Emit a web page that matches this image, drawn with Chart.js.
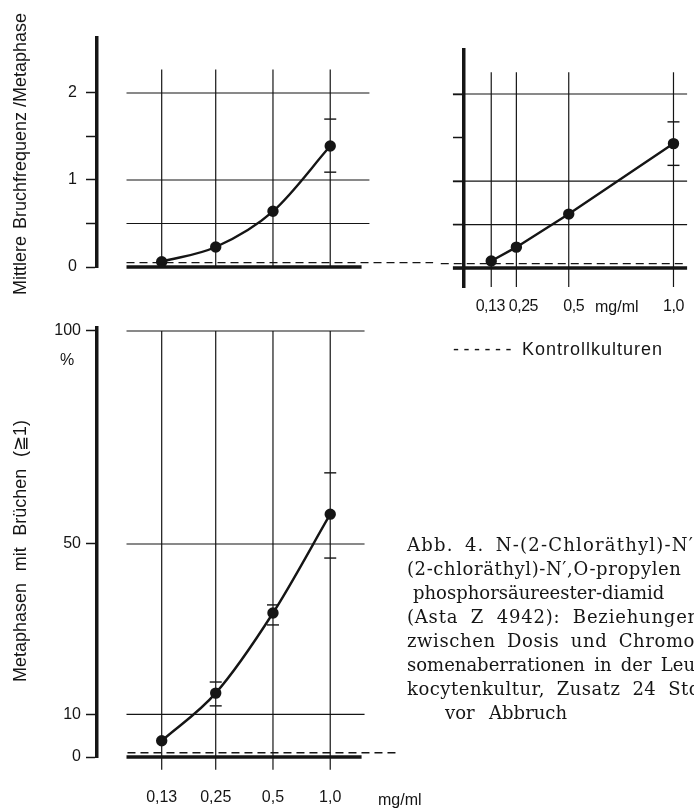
<!DOCTYPE html>
<html>
<head>
<meta charset="utf-8">
<script src="https://cdn.jsdelivr.net/npm/chart.js@4.4.1/dist/chart.umd.min.js"></script>
<style>
  html, body { margin: 0; padding: 0; background: #fff; overflow: hidden; }
  body { width: 694px; height: 810px; position: relative; font-family: 'Liberation Sans', Arial, sans-serif; color: #151515; }
  canvas { position: absolute; }
  .t { position: absolute; white-space: nowrap; font-size: 16px; line-height: 18px; }
  .rot { position: absolute; font-size: 18px; line-height: 18px; height: 18px; text-align: justify; text-align-last: justify; transform: rotate(-90deg); }
  .cap { position: absolute; font-family: 'DejaVu Serif', serif; font-size: 18px; line-height: 24px; height: 24px; text-align: justify; text-align-last: justify; }
</style>
</head>
<body>
<canvas id="oben" width="440" height="300" style="left:0;top:0"></canvas>
<canvas id="rechts" width="254" height="330" style="left:440px;top:0"></canvas>
<canvas id="unten" width="440" height="510" style="left:0;top:300px"></canvas>

<div class="rot" style="left:-129px;top:145px;width:298px;text-align:center;text-align-last:center;white-space:nowrap"><span style="margin-right:7px">Mittlere</span>Bruchfrequenz /Metaphase</div>
<div class="rot" style="left:-111px;top:542px;width:262px">Metaphasen mit Brüchen (≧1)</div>
<div class="t" style="left:60px;top:351px">%</div>
<div class="t" style="left:378px;top:791px">mg/ml</div>
<div class="t" style="left:595px;top:298px">mg/ml</div>
<div class="t" style="left:453px;top:338px;font-size:18px;line-height:22px"><span style="letter-spacing:4.5px">------</span><span style="letter-spacing:1px"> Kontrollkulturen</span></div>

<div class="cap" style="left:407px;top:533px;width:287px;letter-spacing:1.2px">Abb. 4. N-(2-Chloräthyl)-N′</div>
<div class="cap" style="left:407px;top:557px;width:284px;letter-spacing:0.6px">(2-chloräthyl)-N′,O-propylen</div>
<div class="cap" style="left:413px;top:581px;width:255px">phosphorsäureester-diamid</div>
<div class="cap" style="left:407px;top:605px;width:293px;letter-spacing:0.8px">(Asta Z 4942): Beziehungen</div>
<div class="cap" style="left:407px;top:629px;width:288px;letter-spacing:0.6px">zwischen Dosis und Chromo</div>
<div class="cap" style="left:407px;top:653px;width:288px">somenaberrationen in der Leu</div>
<div class="cap" style="left:407px;top:677px;width:300px;letter-spacing:0.5px">kocytenkultur, Zusatz 24 Std.</div>
<div class="cap" style="left:445px;top:701px;width:122px">vor Abbruch</div>

<script>
// Dosen (mg/ml)
const doses = [0.13, 0.25, 0.5, 1.0];
const doseLabels = ['0,13', '0,25', '0,5', '1,0'];

// Mittlere Bruchfrequenz / Metaphase (oben links: Kurve, oben rechts: lineare Achse)
const freqLeft = [0.06, 0.23, 0.64, 1.39];
const freqLeftHi = [null, null, null, 1.70];
const freqLeftLo = [null, null, null, 1.09];
const freqRight = [0.08, 0.24, 0.62, 1.43];
const freqRightHi = [null, null, null, 1.68];
const freqRightLo = [null, null, null, 1.18];
const freqControl = 0.05;
const freqTicks = [0, 0.5, 1, 1.5, 2];
const freqTickLabels = ['0', '', '1', '', '2'];
const freqRows = [0.5, 1, 2];

// Metaphasen mit Brüchen (%)
const pct = [3.8, 15.0, 33.8, 57.0];
const pctHi = [null, 17.6, 35.7, 66.7];
const pctLo = [null, 12.0, 31.0, 46.7];
const pctControl = 1;
const pctTicks = [0, 10, 50, 100];
const pctTickLabels = ['0', '10', '50', '100'];
const pctRows = [10, 50, 100];

const ink = '#151515';
const font = { family: "'Liberation Sans', Arial, sans-serif", size: 16 };

// Gitter, Nulllinie, Kontrolllinie und Fehlerstriche
const frame = {
  id: 'frame',
  beforeDatasetsDraw(chart, args, o) {
    const { ctx, scales: { x, y } } = chart;
    const seg = (x1, y1, x2, y2) => { ctx.beginPath(); ctx.moveTo(x1, y1); ctx.lineTo(x2, y2); ctx.stroke(); };
    ctx.save();
    ctx.strokeStyle = ink;
    ctx.lineWidth = 1.2;
    o.rows.forEach(v => seg(x.getPixelForValue(o.from), y.getPixelForValue(v), x.getPixelForValue(o.to), y.getPixelForValue(v)));
    doses.forEach(d => seg(x.getPixelForValue(d), y.getPixelForValue(o.top), x.getPixelForValue(d), y.getPixelForValue(o.bottom)));
    ctx.lineWidth = 3.5;
    seg(x.getPixelForValue(o.from), y.getPixelForValue(0), x.getPixelForValue(o.baseTo), y.getPixelForValue(0));
    // Kontrollkulturen
    ctx.lineWidth = 1.3;
    ctx.setLineDash([8, 5]);
    seg(x.getPixelForValue(o.ctrlFrom), y.getPixelForValue(o.control), x.getPixelForValue(o.ctrlTo), y.getPixelForValue(o.control));
    ctx.restore();
  },
  afterDatasetsDraw(chart, args, o) {
    const { ctx, scales: { x, y } } = chart;
    ctx.save();
    ctx.strokeStyle = ink;
    ctx.lineWidth = 1.4;
    doses.forEach((d, i) => {
      [o.hi[i], o.lo[i]].forEach(v => {
        if (v == null) return;
        const px = x.getPixelForValue(d), py = y.getPixelForValue(v);
        ctx.beginPath(); ctx.moveTo(px - 6, py); ctx.lineTo(px + 6, py); ctx.stroke();
      });
    });
    ctx.restore();
  }
};

// Dosisbeschriftung rechts oben (Etiketten leicht versetzt wie im Original)
const doseText = {
  id: 'doseText',
  afterDraw(chart, args, o) {
    const { ctx, chartArea, scales: { x } } = chart;
    ctx.save();
    ctx.fillStyle = ink;
    ctx.font = font.size + 'px ' + font.family;
    ctx.letterSpacing = '-0.5px';
    ctx.textAlign = 'center';
    ctx.textBaseline = 'middle';
    doses.forEach((d, i) => ctx.fillText(doseLabels[i], x.getPixelForValue(d) + o.shift[i], chartArea.bottom + o.gap));
    ctx.restore();
  }
};

function series(values, smooth) {
  return {
    data: doses.map((d, i) => ({ x: d, y: values[i] })),
    borderColor: ink, backgroundColor: ink, borderWidth: 2.4,
    pointRadius: 4.5, pointHoverRadius: 4.5,
    cubicInterpolationMode: smooth ? 'monotone' : 'default', tension: 0
  };
}

function yAxis(min, max, labels, width, pad, ticks) {
  return {
    min, max,
    afterBuildTicks: s => { s.ticks = ticks.map(v => ({ value: v })); },
    afterFit: s => { s.width = width; },
    grid: { display: true, drawOnChartArea: false, drawTicks: true, tickLength: 11, tickWidth: 1.5, tickColor: ink },
    border: { display: true, width: 3.5, color: ink },
    ticks: { color: ink, font, padding: pad, autoSkip: false, callback: (v, i) => labels[i] }
  };
}

const common = {
  responsive: false,
  animation: false,
  plugins: { legend: { display: false }, tooltip: { enabled: false } }
};

new Chart(document.getElementById('oben'), {
  type: 'line',
  data: { datasets: [series(freqLeft, true)] },
  options: {
    ...common,
    layout: { padding: { top: 38, bottom: 33, left: 0, right: 0 } },
    scales: {
      x: { type: 'logarithmic', min: 0.0594, max: 3.474, display: false },
      y: yAxis(0, 2.632, freqTickLabels, 97, 9, freqTicks)
    },
    plugins: {
      ...common.plugins,
      frame: { rows: freqRows, from: 0.0849, to: 1.607, baseTo: 1.4615, top: 2.27, bottom: 0,
               control: freqControl, ctrlFrom: 0.0849, ctrlTo: 3.474, hi: freqLeftHi, lo: freqLeftLo }
    }
  },
  plugins: [frame]
});

new Chart(document.getElementById('rechts'), {
  type: 'line',
  data: { datasets: [series(freqRight, false)] },
  options: {
    ...common,
    layout: { padding: { top: 50, bottom: 43, left: 0, right: 0 } },
    scales: {
      x: { type: 'linear', min: 0, max: 1.065, display: false },
      y: yAxis(-0.218, 2.506, freqTicks.map(() => ''), 24, 0, freqTicks)
    },
    plugins: {
      ...common.plugins,
      frame: { rows: freqRows, from: -0.053, to: 1.065, baseTo: 1.065, top: 2.25, bottom: -0.218,
               control: freqControl, ctrlFrom: -0.111, ctrlTo: 1.065, hi: freqRightHi, lo: freqRightLo },
      doseText: { gap: 20, shift: [-1, 7, 5, 0] }
    }
  },
  plugins: [frame, doseText]
});

new Chart(document.getElementById('unten'), {
  type: 'line',
  data: { datasets: [series(pct, true)] },
  options: {
    ...common,
    layout: { padding: { top: 28, bottom: 0, left: 0, right: 0 } },
    scales: {
      x: {
        type: 'logarithmic', min: 0.0594, max: 3.474,
        afterBuildTicks: s => { s.ticks = doses.map(v => ({ value: v })); },
        afterFit: s => { s.height = 53; },
        grid: { display: false, drawTicks: false },
        border: { display: false },
        ticks: { color: ink, font, padding: 31, autoSkip: false, maxRotation: 0, minRotation: 0, callback: (v, i) => doseLabels[i] }
      },
      y: yAxis(0, 100.7, pctTickLabels, 97, 5, pctTicks)
    },
    plugins: {
      ...common.plugins,
      frame: { rows: pctRows, from: 0.0849, to: 1.515, baseTo: 1.4615, top: 100, bottom: -3,
               control: pctControl, ctrlFrom: 0.0859, ctrlTo: 2.294, hi: pctHi, lo: pctLo }
    }
  },
  plugins: [frame]
});
</script>
</body>
</html>
